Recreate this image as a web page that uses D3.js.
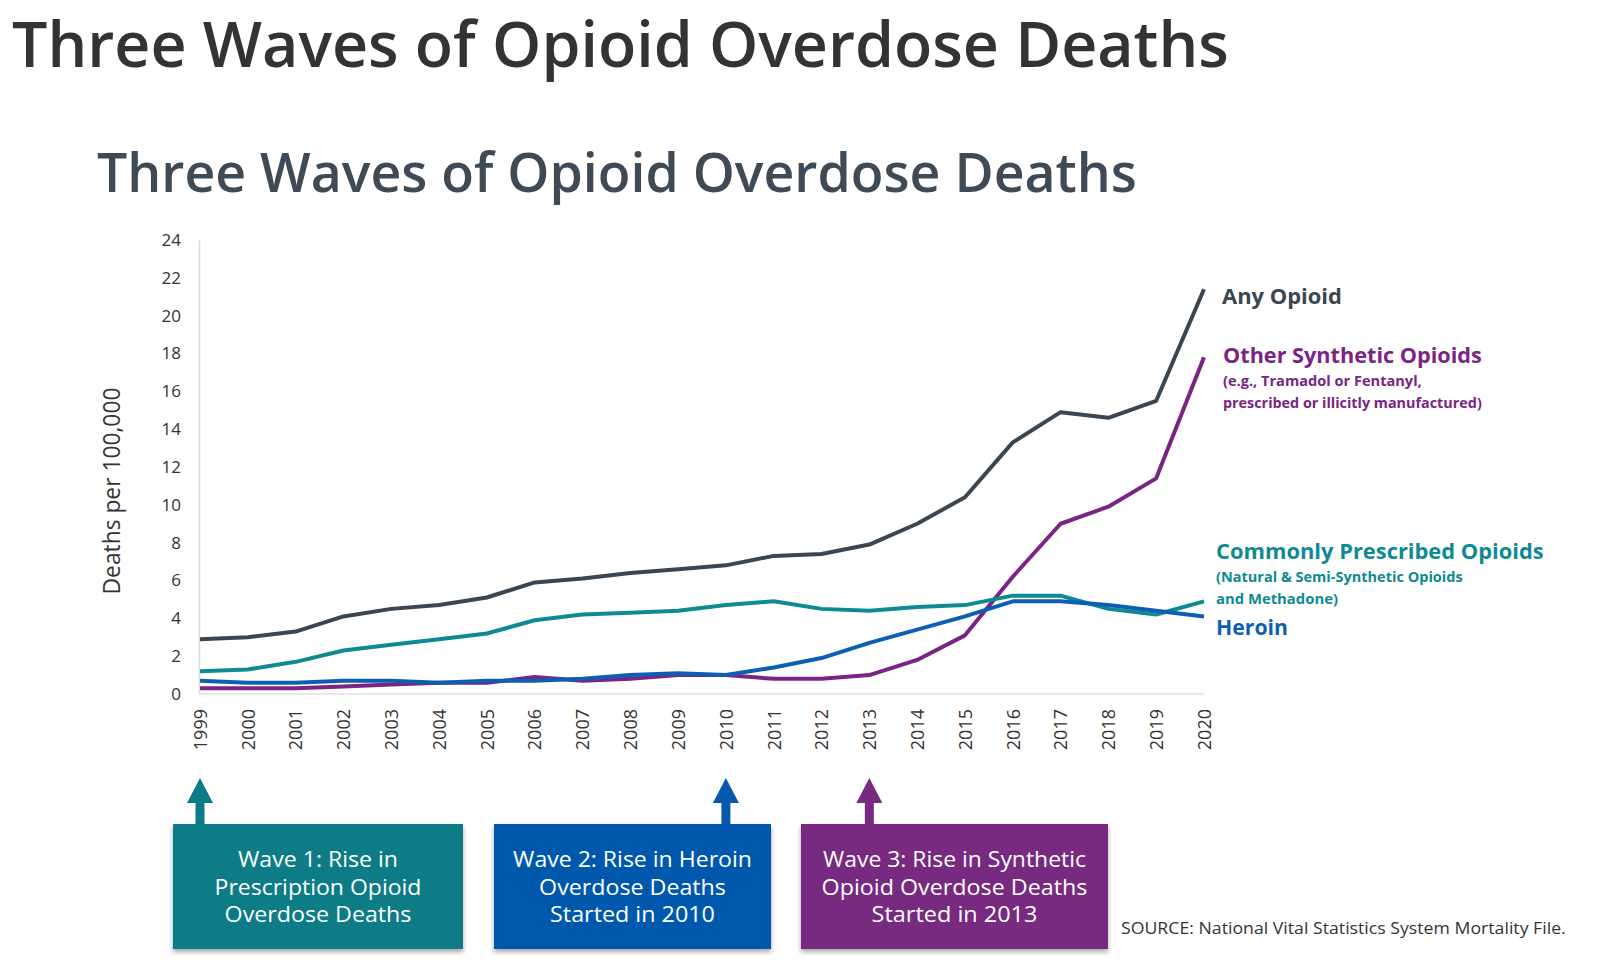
<!DOCTYPE html>
<html>
<head>
<meta charset="utf-8">
<script src="https://cdn.jsdelivr.net/npm/d3@7/dist/d3.min.js"></script>
<style>
  html, body { margin: 0; padding: 0; background: #fff; }
  svg { display: block; }
  text { font-family: "Open Sans", "Noto Sans", sans-serif; }
</style>
</head>
<body>
<svg id="chart" width="1622" height="960"></svg>
<script>
// ---------- DATA ----------
const years = [1999,2000,2001,2002,2003,2004,2005,2006,2007,2008,2009,2010,2011,2012,2013,2014,2015,2016,2017,2018,2019,2020];
const anyOpioid  = [2.9,3.0,3.3,4.1,4.5,4.7,5.1,5.9,6.1,6.4,6.6,6.8,7.3,7.4,7.9,9.0,10.4,13.3,14.9,14.6,15.5,21.4];
const commonRx   = [1.2,1.3,1.7,2.3,2.6,2.9,3.2,3.9,4.2,4.3,4.4,4.7,4.9,4.5,4.4,4.6,4.7,5.2,5.2,4.5,4.2,4.9];
const heroin     = [0.7,0.6,0.6,0.7,0.7,0.6,0.7,0.7,0.8,1.0,1.1,1.0,1.4,1.9,2.7,3.4,4.1,4.9,4.9,4.7,4.4,4.1];
const synthetic  = [0.3,0.3,0.3,0.4,0.5,0.6,0.6,0.9,0.7,0.8,1.0,1.0,0.8,0.8,1.0,1.8,3.1,6.2,9.0,9.9,11.4,17.8];
const yTicks = [0,2,4,6,8,10,12,14,16,18,20,22,24];
const waveYears = [1999, 2010, 2013];
const waveText = [
  ["Wave 1: Rise in","Prescription Opioid","Overdose Deaths"],
  ["Wave 2: Rise in Heroin","Overdose Deaths","Started in 2010"],
  ["Wave 3: Rise in Synthetic","Opioid Overdose Deaths","Started in 2013"]
];
const waveTextWidths = [[160,207,187],[239,187,165],[263,266,166]];

// ---------- STYLE ----------
const C = { any:"#3a4651", rx:"#0e8a93", her:"#0c5fb3", syn:"#7a2483",
            box1:"#0b7c86", box2:"#0559ad", box3:"#782a80" };

const svg = d3.select("#chart");

function fitFont(sel, target) {
  const w = sel.node().getComputedTextLength();
  const fs = parseFloat(sel.attr("font-size"));
  sel.attr("font-size", fs * target / w);
  return sel;
}

// ---------- TITLES ----------
fitFont(svg.append("text").attr("x", 12).attr("y", 67).attr("font-size", 62)
  .attr("fill", "#333").attr("font-weight", 600)
  .text("Three Waves of Opioid Overdose Deaths"), 1217);

fitFont(svg.append("text").attr("x", 97).attr("y", 192).attr("font-size", 56)
  .attr("fill", "#3e4b56").attr("font-weight", 600)
  .text("Three Waves of Opioid Overdose Deaths"), 1040);

// ---------- SCALES ----------
const x = d3.scaleLinear().domain([1999, 2020]).range([200, 1204]);
const y = d3.scaleLinear().domain([0, 24]).range([694, 240]);

// axes
const yAxis = svg.append("g").attr("transform", "translate(199,0)")
  .call(d3.axisLeft(y).tickValues(yTicks).tickSize(0).tickPadding(18).tickFormat(d3.format("d")));
yAxis.select(".domain").attr("stroke", "#dcdcdc").attr("stroke-width", 1.5);
yAxis.selectAll("text").attr("font-size", 17).attr("fill", "#333")
  .attr("font-family", "'Open Sans', sans-serif");

const xAxis = svg.append("g").attr("transform", "translate(0,694)")
  .call(d3.axisBottom(x).tickValues(years).tickSize(0).tickFormat(d3.format("d")));
xAxis.select(".domain").attr("stroke", "#e0e0e0").attr("stroke-width", 1.5)
  .attr("d", `M${x(1999)-1},0H${x(2020)}`);
xAxis.selectAll("text").attr("font-size", 18).attr("fill", "#333")
  .attr("font-family", "'Open Sans', sans-serif")
  .attr("transform", "rotate(-90)").attr("text-anchor", "end")
  .attr("x", -15).attr("y", 0).attr("dy", "0.35em");

// y axis label
fitFont(svg.append("text").attr("transform", "translate(120,491) rotate(-90)")
  .attr("text-anchor", "middle").attr("font-size", 20).attr("fill", "#333")
  .text("Deaths per 100,000"), 207);

// ---------- LINES ----------
const line = d3.line().x((d, i) => x(years[i])).y(d => y(d));
const series = [
  { v: anyOpioid, c: C.any },
  { v: synthetic, c: C.syn },
  { v: commonRx, c: C.rx },
  { v: heroin, c: C.her }
];
series.forEach(s => {
  svg.append("path").datum(s.v).attr("d", line)
    .attr("fill", "none").attr("stroke", s.c).attr("stroke-width", 4)
    .attr("stroke-linejoin", "round").attr("stroke-linecap", "butt");
});

// ---------- SERIES LABELS ----------
function label(txt, xx, yy, size, weight, color, w) {
  return fitFont(svg.append("text").attr("x", xx).attr("y", yy).attr("font-size", size)
    .attr("font-weight", weight).attr("fill", color).text(txt), w);
}
label("Any Opioid", 1222, 304, 22, 700, C.any, 120);
label("Other Synthetic Opioids", 1223, 363, 22, 700, C.syn, 259);
label("(e.g., Tramadol or Fentanyl,", 1223, 386, 14, 700, C.syn, 199);
label("prescribed or illicitly manufactured)", 1223, 408, 14, 700, C.syn, 259);
label("Commonly Prescribed Opioids", 1216, 559, 22, 700, C.rx, 328);
label("(Natural & Semi-Synthetic Opioids", 1216, 582, 14, 700, C.rx, 247);
label("and Methadone)", 1216, 604, 14, 700, C.rx, 122);
label("Heroin", 1216, 635, 22, 700, C.her, 72);

// ---------- WAVE BOXES ----------
const defs = svg.append("defs");
const f = defs.append("filter").attr("id", "shadow").attr("x", "-10%").attr("y", "-10%")
  .attr("width", "120%").attr("height", "130%");
f.append("feDropShadow").attr("dx", 0).attr("dy", 3).attr("stdDeviation", 2.5)
  .attr("flood-color", "#000").attr("flood-opacity", 0.35);

const boxes = [
  { x0: 173, x1: 463, c: C.box1 },
  { x0: 494, x1: 771, c: C.box2 },
  { x0: 801, x1: 1108, c: C.box3 }
];
const boxTop = 824, boxBot = 949;
boxes.forEach((b, i) => {
  const ax = x(waveYears[i]);
  // arrow
  svg.append("rect").attr("x", ax - 4.5).attr("y", 800).attr("width", 9).attr("height", boxTop - 800 + 1)
    .attr("fill", b.c);
  svg.append("path").attr("d", `M${ax},778L${ax + 13},803L${ax - 13},803Z`).attr("fill", b.c);
  // box
  svg.append("rect").attr("x", b.x0).attr("y", boxTop).attr("width", b.x1 - b.x0)
    .attr("height", boxBot - boxTop).attr("fill", b.c).attr("filter", "url(#shadow)");
  const cx = (b.x0 + b.x1) / 2;
  waveText[i].forEach((t, j) => {
    const tx = svg.append("text").attr("x", 0).attr("y", 0).attr("text-anchor", "middle")
      .attr("font-family", "'Liberation Sans Narrow', 'Liberation Sans', Arial, sans-serif")
      .attr("font-size", 22).attr("fill", "#fff").text(t);
    const w = tx.node().getComputedTextLength();
    tx.attr("transform", `translate(${cx},${867 + j * 27.5}) scale(${waveTextWidths[i][j] / w},1)`);
  });
});

// ---------- SOURCE ----------
const src = svg.append("text").attr("x", 0).attr("y", 0).attr("font-size", 17).attr("fill", "#333")
  .text("SOURCE: National Vital Statistics System Mortality File.");
const sw = src.node().getComputedTextLength();
src.attr("transform", `translate(1121,934) scale(${445 / sw},1)`);
</script>
</body>
</html>
